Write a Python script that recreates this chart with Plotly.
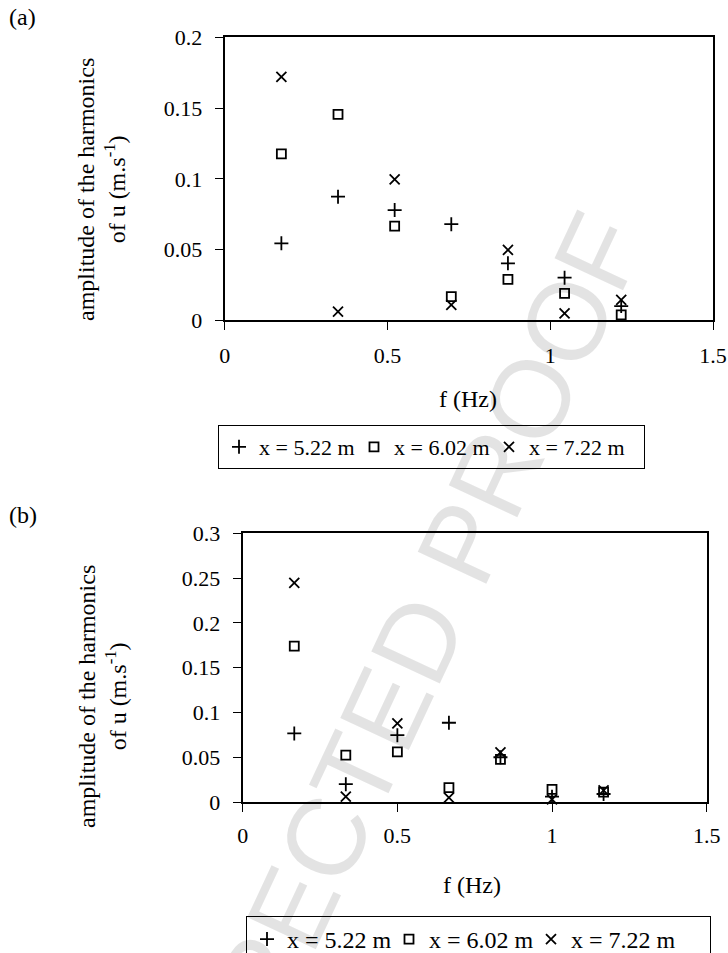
import plotly.graph_objects as go

# ---- data ----
series_names = ["x = 5.22 m", "x = 6.02 m", "x = 7.22 m"]

freq_a = [0.174, 0.348, 0.522, 0.696, 0.870, 1.044, 1.218]
amp_a_522 = [0.0545, 0.0874, 0.0780, 0.0680, 0.0404, 0.0302, 0.0102]
amp_a_602 = [0.1176, 0.1456, 0.0667, 0.0168, 0.0290, 0.0192, 0.0039]
amp_a_722 = [0.1720, 0.0062, 0.0997, 0.0110, 0.0498, 0.0051, 0.0145]

freq_b = [0.1667, 0.3333, 0.5, 0.6667, 0.8333, 1.0, 1.1667]
amp_b_522 = [0.0766, 0.0200, 0.0747, 0.0885, 0.0500, 0.0060, 0.0090]
amp_b_602 = [0.1740, 0.0524, 0.0561, 0.0160, 0.0476, 0.0142, 0.0110]
amp_b_722 = [0.2446, 0.0060, 0.0878, 0.0050, 0.0554, 0.0030, 0.0130]

x_ticks = [0, 0.5, 1, 1.5]

FONT = "Liberation Serif, Times New Roman, serif"
symbols = ["cross-thin-open", "square-open", "x-thin-open"]
sizes = [10, 9, 10]

fig = go.Figure()

panels = [
    (freq_a, [amp_a_522, amp_a_602, amp_a_722], "x", "y", "legend", [90, 90, 110]),
    (freq_b, [amp_b_522, amp_b_602, amp_b_722], "x2", "y2", "legend2", [97, 97, 134]),
]
for freq, amps, xa, ya, lg, lws in panels:
    for name, amp, sym, sz, lw in zip(series_names, amps, symbols, sizes, lws):
        fig.add_trace(go.Scatter(
            x=freq, y=amp, mode="markers", name=name,
            xaxis=xa, yaxis=ya, legend=lg, legendwidth=lw, cliponaxis=False,
            marker=dict(symbol=sym, size=sz, color="black",
                        line=dict(color="black", width=1.8)),
        ))

axis_common = dict(
    showgrid=False, zeroline=False, showline=True, linecolor="black",
    linewidth=2, mirror=True, ticks="outside", ticklen=8, tickwidth=1,
    tickcolor="black", tickfont=dict(family=FONT, size=22, color="black"),
)

fig.update_layout(
    width=728, height=953,
    margin=dict(l=0, r=0, t=0, b=0, autoexpand=False),
    paper_bgcolor="white", plot_bgcolor="white",
    font=dict(family=FONT, size=23, color="black"),
    xaxis=dict(domain=[0.3087, 0.9794], range=[0, 1.5], tickvals=x_ticks,
               anchor="y", ticklabelstandoff=6, **axis_common),
    yaxis=dict(domain=[0.6637, 0.9609], range=[0, 0.2], dtick=0.05,
               anchor="x", ticklabelstandoff=8, **axis_common),
    xaxis2=dict(domain=[0.3334, 0.9707], range=[0, 1.5], tickvals=x_ticks,
                anchor="y2", ticklabelstandoff=5, **axis_common),
    yaxis2=dict(domain=[0.1584, 0.4404], range=[0, 0.3], dtick=0.05,
                anchor="x2", ticklabelstandoff=8, **axis_common),
    legend=dict(orientation="h", x=218 / 728, y=1 - 425 / 953, xanchor="left",
                yanchor="top", bordercolor="black", borderwidth=1,
                itemwidth=30, bgcolor="white",
                font=dict(family=FONT, size=22)),
    legend2=dict(orientation="h", x=246 / 728, y=1 - 916 / 953, xanchor="left",
                 yanchor="top", bordercolor="black", borderwidth=1,
                 itemwidth=30, bgcolor="white",
                 font=dict(family=FONT, size=24)),
)

ytitle = "amplitude of the harmonics<br>of u (m.s<sup>-1</sup>)"
annotations = [
    dict(text="(a)", x=7 / 728, y=1 - 17 / 953, xanchor="left", yanchor="middle"),
    dict(text="(b)", x=7 / 728, y=1 - 515 / 953, xanchor="left", yanchor="middle"),
    dict(text=ytitle, x=102 / 728, y=1 - 190 / 953, textangle=-90,
         xanchor="center", yanchor="middle"),
    dict(text=ytitle, x=102 / 728, y=1 - 697 / 953, textangle=-90,
         xanchor="center", yanchor="middle"),
    dict(text="f (Hz)", x=468 / 728, y=1 - 399 / 953, xanchor="center",
         yanchor="middle"),
    dict(text="f (Hz)", x=472 / 728, y=1 - 885 / 953, xanchor="center",
         yanchor="middle"),
]
for a in annotations:
    a.update(xref="paper", yref="paper", showarrow=False,
             font=dict(family=FONT, size=24, color="black"))
    fig.add_annotation(**a)

# watermark
fig.add_annotation(text="CORRECTED PROOF", xref="paper", yref="paper",
                   x=376 / 728, y=1 - 728 / 953, showarrow=False,
                   xanchor="center", yanchor="middle",
                   textangle=-65,
                   font=dict(family="Liberation Sans, Arial", size=110,
                             color="rgba(0,0,0,0.11)"))

fig.write_html(
    "out.html",
    config={"displayModeBar": False},
    post_script=(
        "document.body.style.margin='0';"
        "document.body.style.overflow='hidden';"
        "document.documentElement.style.overflow='hidden';"
    ),
)
